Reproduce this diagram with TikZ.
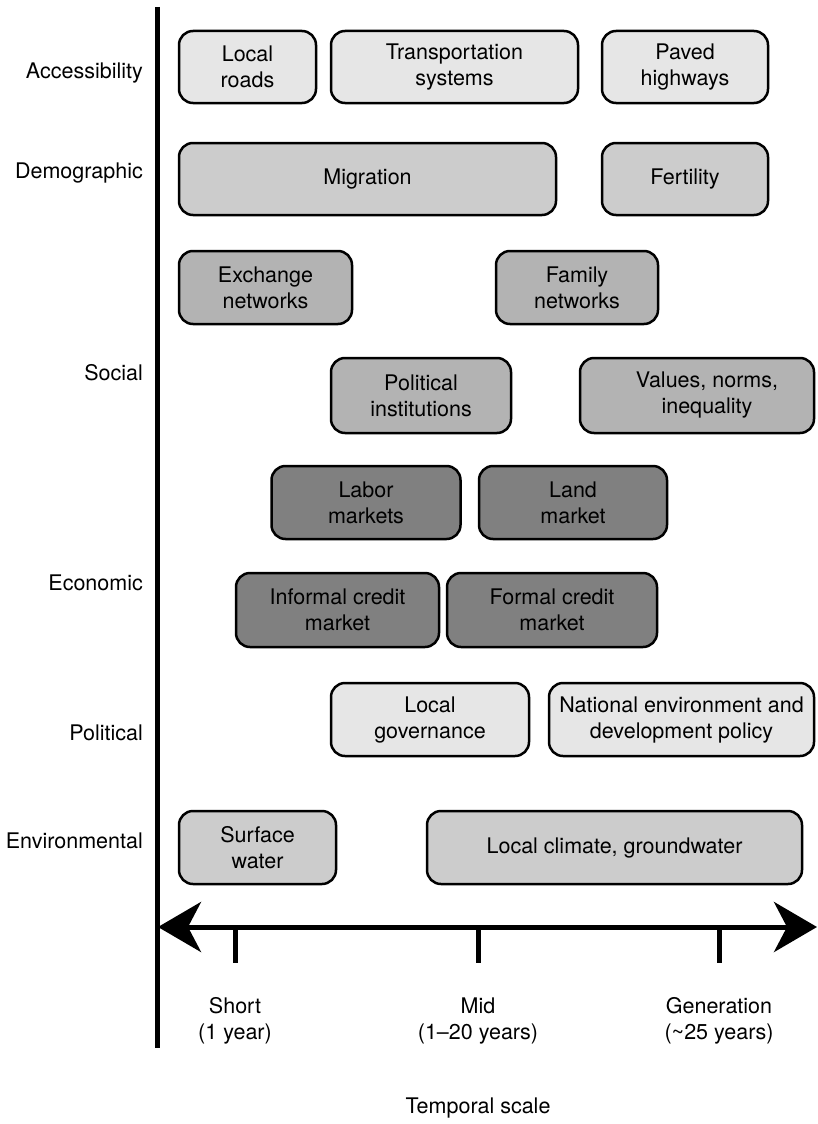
\documentclass[tikz,border=0pt]{standalone}
\usepackage{fontspec}
\setmainfont{TeX Gyre Heros}
\usepackage{tikz}
\usetikzlibrary{arrows.meta}

\definecolor{pale}{HTML}{E6E6E6}
\definecolor{light}{HTML}{CCCCCC}
\definecolor{mid}{HTML}{B3B3B3}
\definecolor{dark}{HTML}{808080}

\begin{document}
\begin{tikzpicture}[x=1pt, y=-1pt,
  box/.style={draw, line width=2.5pt, rounded corners=14pt, align=center, inner sep=0pt,
    font=\fontsize{21.5}{26}\selectfont},
  rowlabel/.style={anchor=base east, inner sep=0pt, font=\fontsize{21.5}{26}\selectfont},
  scalelabel/.style={align=center, font=\fontsize{21.5}{26}\selectfont}]
\useasboundingbox (0,0) rectangle (817,1124);

% row names
\node[name=row_access, rowlabel] at (143,78) {Accessibility};
\node[name=row_demo, rowlabel] at (143,178) {Demographic};
\node[name=row_social, rowlabel] at (143,380) {Social};
\node[name=row_econ, rowlabel] at (143,590) {Economic};
\node[name=row_polit, rowlabel] at (143,740) {Political};
\node[name=row_env, rowlabel] at (143,848) {Environmental};

% accessibility
\node[name=local_roads, box, fill=pale, minimum width=137pt, minimum height=72pt] at (247.5,67) {Local\\roads};
\node[name=transport, box, fill=pale, minimum width=247pt, minimum height=72pt] at (454.5,67) {Transportation\\systems};
\node[name=paved, box, fill=pale, minimum width=166pt, minimum height=72pt] at (685,67) {Paved\\highways};

% demographic
\node[name=migration, box, fill=light, minimum width=377pt, minimum height=72pt] at (367.5,179) {Migration};
\node[name=fertility, box, fill=light, minimum width=166pt, minimum height=72pt] at (685,179) {Fertility};

% social
\node[name=exchange, box, fill=mid, minimum width=173pt, minimum height=73pt] at (265.5,287.5) {Exchange\\networks};
\node[name=family, box, fill=mid, minimum width=162pt, minimum height=73pt] at (577,287.5) {Family\\networks};
\node[name=pol_inst, box, fill=mid, minimum width=180pt, minimum height=75pt] at (421,395.5) {Political\\institutions};
\node[name=values, box, fill=mid, minimum width=234pt, minimum height=75pt] at (697,395.5) {\hspace*{20pt}Values, norms,\\\hspace*{20pt}inequality};

% economic
\node[name=labor, box, fill=dark, minimum width=189pt, minimum height=73pt] at (366,502.5) {Labor\\markets};
\node[name=land, box, fill=dark, minimum width=188pt, minimum height=73pt] at (573,502.5) {Land\\market};
\node[name=informal, box, fill=dark, minimum width=203pt, minimum height=74pt] at (337.5,610) {Informal credit\\market};
\node[name=formal, box, fill=dark, minimum width=210pt, minimum height=74pt] at (552,610) {Formal credit\\market};

% political
\node[name=local_gov, box, fill=pale, minimum width=198pt, minimum height=73pt] at (430,719.5) {Local\\governance};
\node[name=national, box, fill=pale, minimum width=265pt, minimum height=73pt] at (681.5,719.5) {National environment and\\development policy};

% environmental
\node[name=surface, box, fill=light, minimum width=157pt, minimum height=73pt] at (257.5,847.5) {Surface\\water};
\node[name=climate, box, fill=light, minimum width=375pt, minimum height=73pt] at (614.5,847.5) {Local climate, groundwater};

% axes
\coordinate (axis_top) at (157,7);
\coordinate (axis_bottom) at (157,1048);
\coordinate (time_left) at (158,927);
\coordinate (time_right) at (817,927);
\coordinate (tick_short) at (235,927);
\coordinate (tick_mid) at (478,927);
\coordinate (tick_gen) at (719,927);
\coordinate (tick_short_end) at (235,963);
\coordinate (tick_mid_end) at (478,963);
\coordinate (tick_gen_end) at (719,963);

\draw[line width=5pt] (axis_top) -- (axis_bottom);
\draw[line width=5pt, {Stealth[length=43pt, width=50pt, inset=13pt]}-{Stealth[length=43pt, width=50pt, inset=13pt]}] (time_left) -- (time_right);
\draw[line width=5pt] (tick_short) -- (tick_short_end);
\draw[line width=5pt] (tick_mid) -- (tick_mid_end);
\draw[line width=5pt] (tick_gen) -- (tick_gen_end);

% time labels
\node[name=lbl_short, scalelabel] at (235,1021) {Short\\(1 year)};
\node[name=lbl_mid, scalelabel] at (478,1021) {Mid\\(1--20 years)};
\node[name=lbl_gen, scalelabel] at (719,1021) {Generation\\(\textasciitilde25 years)};
\node[name=lbl_scale, scalelabel] at (478,1108) {Temporal scale};
\end{tikzpicture}
\end{document}
